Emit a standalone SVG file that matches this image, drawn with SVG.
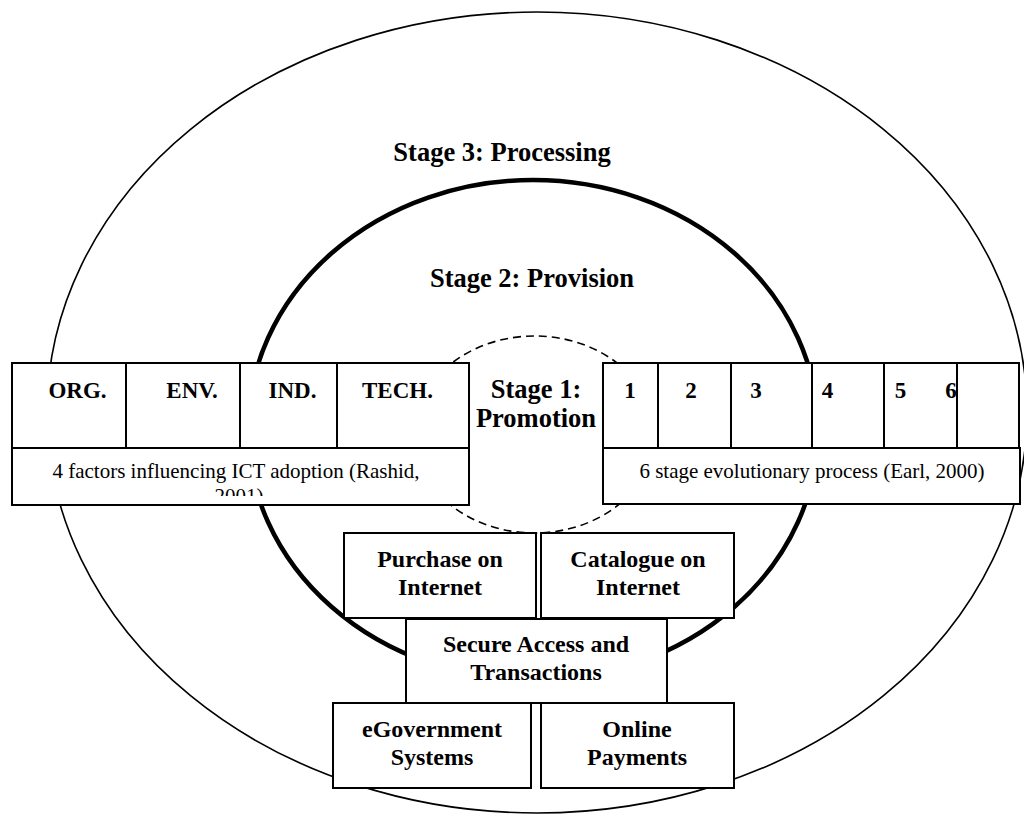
<svg xmlns="http://www.w3.org/2000/svg" width="1024" height="814" viewBox="0 0 1024 814">
  <style>
    .lbl { font-family: "Liberation Serif", "Times New Roman", serif; font-weight: bold; fill: #000; }
    .reg { font-family: "Liberation Serif", "Times New Roman", serif; font-weight: normal; fill: #000; }
    .box { fill: #fff; stroke: #000; stroke-width: 2; }
    .div { stroke: #000; stroke-width: 2; }
  </style>
  <defs>
    <clipPath id="factorsClip">
      <rect x="12" y="449" width="457" height="47"/>
    </clipPath>
  </defs>
  <rect width="1024" height="814" fill="#fff"/>

  <!-- stage rings -->
  <g id="stage3-ring">
    <ellipse cx="537" cy="412.5" rx="490" ry="400.5" fill="none" stroke="#000" stroke-width="1.6"/>
    <text class="lbl" x="502" y="161" font-size="26.5" text-anchor="middle">Stage 3: Processing</text>
  </g>
  <g id="stage2-ring">
    <ellipse cx="533" cy="430" rx="285" ry="250" fill="none" stroke="#000" stroke-width="4.5"/>
    <text class="lbl" x="532" y="287" font-size="26.5" text-anchor="middle">Stage 2: Provision</text>
  </g>
  <g id="stage1-ring">
    <ellipse cx="534.5" cy="434.5" rx="120" ry="98.5" fill="none" stroke="#000" stroke-width="1.6" stroke-dasharray="8,5"/>
    <text class="lbl" x="536" y="398" font-size="26.5" text-anchor="middle">Stage 1:</text>
    <text class="lbl" x="536" y="427" font-size="26.5" text-anchor="middle">Promotion</text>
  </g>

  <!-- no connectors in this figure -->
  <g id="connectors"/>

  <!-- adoption factors table -->
  <g id="factors">
    <rect class="box" x="12" y="363" width="457" height="85"/>
    <rect class="box" x="12" y="448" width="457" height="57"/>
    <line class="div" x1="12" y1="448" x2="469" y2="448" stroke-width="3.5"/>
    <line class="div" x1="126" y1="363" x2="126" y2="448"/>
    <line class="div" x1="240" y1="363" x2="240" y2="448"/>
    <line class="div" x1="337" y1="363" x2="337" y2="448"/>
    <text class="lbl" x="77.5" y="398" font-size="23" text-anchor="middle">ORG.</text>
    <text class="lbl" x="192" y="398" font-size="23" text-anchor="middle">ENV.</text>
    <text class="lbl" x="292.5" y="398" font-size="23" text-anchor="middle">IND.</text>
    <text class="lbl" x="397.5" y="398" font-size="23" text-anchor="middle">TECH.</text>
    <g clip-path="url(#factorsClip)">
      <text class="reg" x="236" y="478" font-size="21" text-anchor="middle">4 factors influencing ICT adoption (Rashid,</text>
      <text class="reg" x="239" y="503" font-size="21" text-anchor="middle">2001)</text>
    </g>
  </g>

  <!-- evolutionary stages table -->
  <g id="stages">
    <rect class="box" x="603" y="363" width="416" height="85"/>
    <rect class="box" x="603" y="448" width="417" height="56"/>
    <line class="div" x1="603" y1="448" x2="1020" y2="448" stroke-width="3.5"/>
    <line class="div" x1="658" y1="363" x2="658" y2="448"/>
    <line class="div" x1="731" y1="363" x2="731" y2="448"/>
    <line class="div" x1="812" y1="363" x2="812" y2="448"/>
    <line class="div" x1="884" y1="363" x2="884" y2="448"/>
    <text class="lbl" x="630" y="398" font-size="23" text-anchor="middle">1</text>
    <text class="lbl" x="691" y="398" font-size="23" text-anchor="middle">2</text>
    <text class="lbl" x="756" y="398" font-size="23" text-anchor="middle">3</text>
    <text class="lbl" x="827.5" y="398" font-size="23" text-anchor="middle">4</text>
    <text class="lbl" x="900.5" y="398" font-size="23" text-anchor="middle">5</text>
    <text class="lbl" x="951" y="398" font-size="23" text-anchor="middle">6</text>
    <line class="div" x1="957" y1="363" x2="957" y2="448"/>
    <text class="reg" x="812" y="478" font-size="21" text-anchor="middle">6 stage evolutionary process (Earl, 2000)</text>
  </g>

  <!-- service blocks -->
  <g id="purchase">
    <rect class="box" x="344" y="533" width="192" height="85"/>
    <text class="lbl" x="440" y="566.5" font-size="24" text-anchor="middle">Purchase on</text>
    <text class="lbl" x="440" y="594.5" font-size="24" text-anchor="middle">Internet</text>
  </g>
  <g id="catalogue">
    <rect class="box" x="541" y="533" width="193" height="85"/>
    <text class="lbl" x="638" y="566.5" font-size="24" text-anchor="middle">Catalogue on</text>
    <text class="lbl" x="638" y="594.5" font-size="24" text-anchor="middle">Internet</text>
  </g>
  <g id="secure">
    <rect class="box" x="406" y="619" width="261" height="84"/>
    <text class="lbl" x="536" y="652" font-size="24" text-anchor="middle">Secure Access and</text>
    <text class="lbl" x="536" y="679.5" font-size="24" text-anchor="middle">Transactions</text>
  </g>
  <g id="egovernment">
    <rect class="box" x="333" y="703" width="198" height="85"/>
    <text class="lbl" x="432" y="737" font-size="24" text-anchor="middle">eGovernment</text>
    <text class="lbl" x="432" y="764.5" font-size="24" text-anchor="middle">Systems</text>
  </g>
  <g id="payments">
    <rect class="box" x="541" y="703" width="193" height="85"/>
    <text class="lbl" x="637" y="737" font-size="24" text-anchor="middle">Online</text>
    <text class="lbl" x="637" y="764.5" font-size="24" text-anchor="middle">Payments</text>
  </g>
</svg>
